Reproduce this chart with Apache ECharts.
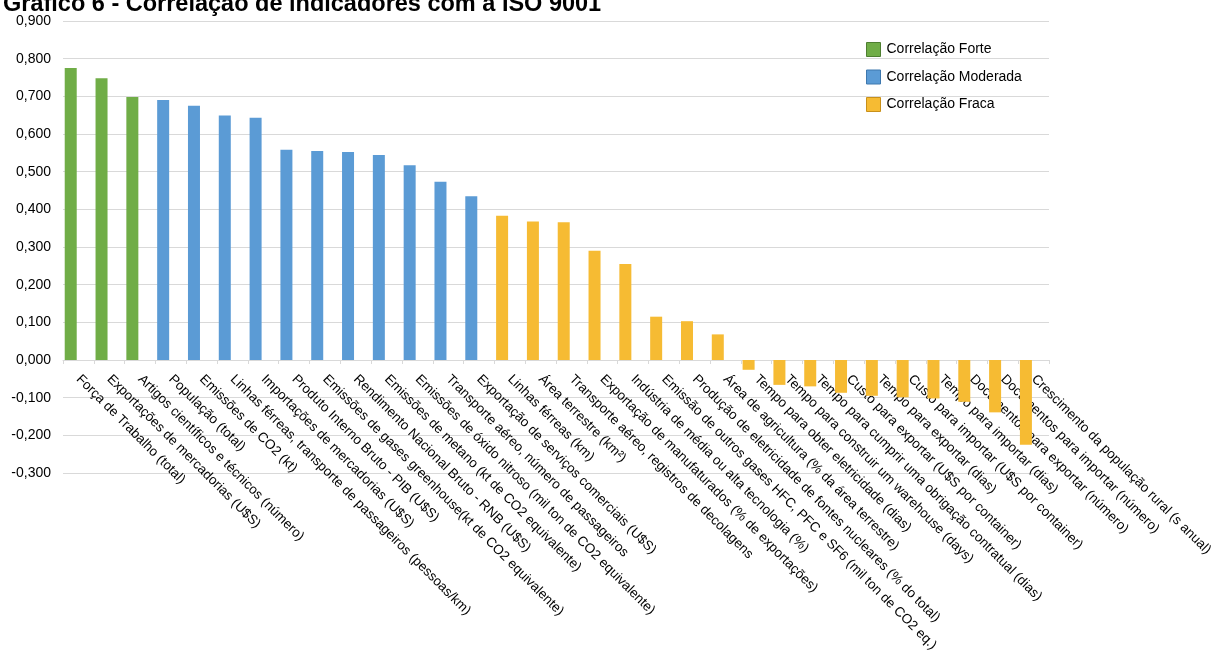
<!DOCTYPE html>
<html>
<head>
<meta charset="utf-8">
<script src="https://cdn.jsdelivr.net/npm/echarts@6/dist/echarts.min.js"></script>
<style>html,body{margin:0;padding:0;background:#fff;}#c{width:1216px;height:655px;}</style>
</head>
<body>
<div id="c"></div>
<script>
const categories = [
  'Força de Trabalho (total)',
  'Exportações de mercadorias (U$S)',
  'Artigos científicos e técnicos (número)',
  'População (total)',
  'Emissões de CO2 (kt)',
  'Linhas férreas, transporte de passageiros (pessoas/km)',
  'Importações de mercadorias (U$S)',
  'Produto Interno Bruto - PIB (U$S)',
  'Emissões de gases greenhouse(kt de CO2 equivalente)',
  'Rendimento Nacional Bruto - RNB (U$S)',
  'Emissões de metano (kt de CO2 equivalente)',
  'Emissões de óxido nitroso (mil ton de CO2 equivalente)',
  'Transporte aéreo, número de passageiros',
  'Exportação de serviços comerciais (U$S)',
  'Linhas férreas (km)',
  'Área terrestre (km²)',
  'Transporte aéreo, registros de decolagens',
  'Exportação de manufaturados (% de exportações)',
  'Indústria de média ou alta tecnologia (%)',
  'Emissão de outros gases HFC, PFC e SF6 (mil ton de CO2 eq.)',
  'Produção de eletricidade de fontes nucleares (% do total)',
  'Área de agricultura (% da área terrestre)',
  'Tempo para obter eletricidade (dias)',
  'Tempo para construir um warehouse (days)',
  'Tempo para cumprir uma obrigação contratual (dias)',
  'Custo para exportar (U$S por container)',
  'Tempo para exportar (dias)',
  'Custo para importar (U$S por container)',
  'Tempo para importar (dias)',
  'Documentos para exportar (número)',
  'Documentos para importar (número)',
  'Crescimento da população rural (s anual)'
];
const values = [
  0.775, 0.748, 0.698, 0.690, 0.675, 0.649, 0.643, 0.558, 0.555, 0.552,
  0.544, 0.517, 0.473, 0.435, 0.383, 0.368, 0.366, 0.290, 0.255, 0.115,
  0.103, 0.068, -0.026, -0.066, -0.070, -0.087, -0.095, -0.099, -0.102, -0.111,
  -0.139, -0.225
];
// strength class of each category: 0 = Forte, 1 = Moderada, 2 = Fraca
const strength = [
  0, 0, 0, 1, 1, 1, 1, 1, 1, 1, 1, 1, 1, 1,
  2, 2, 2, 2, 2, 2, 2, 2, 2, 2, 2, 2, 2, 2, 2, 2, 2, 2
];
const seriesNames = ['Correlação Forte', 'Correlação Moderada', 'Correlação Fraca'];
const seriesColors = ['#70AD47', '#5B9BD5', '#F6BB33'];
const legendBorders = ['#4E7F31', '#3E78AE', '#C8901A'];
const yTicks = { min: -0.3, max: 0.9, interval: 0.1 };
const titleText = 'Gráfico 6 - Correlação de indicadores com a ISO 9001';

const chart = echarts.init(document.getElementById('c'), null, { renderer: 'canvas' });
const font = 'Liberation Sans, Arial, Helvetica, sans-serif';

const gridTop = 21, gridBottom = 182, chartH = 655;
// shift the category axis from the grid bottom up to the value 0
const plotH = chartH - gridTop - gridBottom;
const zeroShift = -plotH * (0 - yTicks.min) / (yTicks.max - yTicks.min);

const series = seriesNames.map((name, k) => ({
  name: name,
  type: 'bar',
  stack: 'corr',
  barWidth: 12,
  barGap: '28%',
  itemStyle: { color: seriesColors[k] },
  data: values.map((v, i) => (strength[i] === k ? v : '-'))
}));
series.push({
  name: 'pad',
  type: 'bar',
  barWidth: 12,
  barGap: '28%',
  silent: true,
  data: values.map(() => '-')
});

chart.setOption({
  animation: false,
  backgroundColor: '#ffffff',
  textStyle: { fontFamily: font },
  title: {
    text: titleText,
    left: 3,
    top: -7,
    padding: 0,
    textStyle: { fontFamily: font, fontWeight: 'bold', fontSize: 23.5, color: '#000' }
  },
  legend: {
    data: seriesNames.map((n, k) => ({ name: n, itemStyle: { borderColor: legendBorders[k], borderWidth: 1 } })),
    orient: 'vertical',
    left: 866,
    top: 42,
    padding: 0,
    icon: 'rect',
    itemWidth: 14,
    itemHeight: 14,
    itemGap: 12.5,
    textStyle: { fontFamily: font, fontSize: 14, color: '#000', padding: [0, 0, 0, 1] }
  },
  grid: { left: 63, right: 167, top: gridTop, bottom: gridBottom, containLabel: false, outerBoundsMode: 'none' },
  xAxis: {
    type: 'category',
    data: categories,
    offset: zeroShift,
    axisLine: { show: true, onZero: false, lineStyle: { color: '#d9d9d9', width: 1 } },
    axisTick: { show: true, interval: 0, length: 4, lineStyle: { color: '#d9d9d9' } },
    axisLabel: { interval: 0, rotate: -45, fontSize: 13.5, color: '#000', margin: 17, fontFamily: font, hideOverlap: false },
    splitLine: { show: false }
  },
  yAxis: {
    type: 'value',
    min: yTicks.min,
    max: yTicks.max,
    interval: yTicks.interval,
    axisLine: { show: false },
    axisTick: { show: false },
    axisLabel: {
      fontSize: 14, color: '#000', margin: 12, fontFamily: font,
      formatter: v => v.toFixed(3).replace('.', ',')
    },
    splitLine: { lineStyle: { color: '#d9d9d9', width: 1 } }
  },
  series: series
});
</script>
</body>
</html>
